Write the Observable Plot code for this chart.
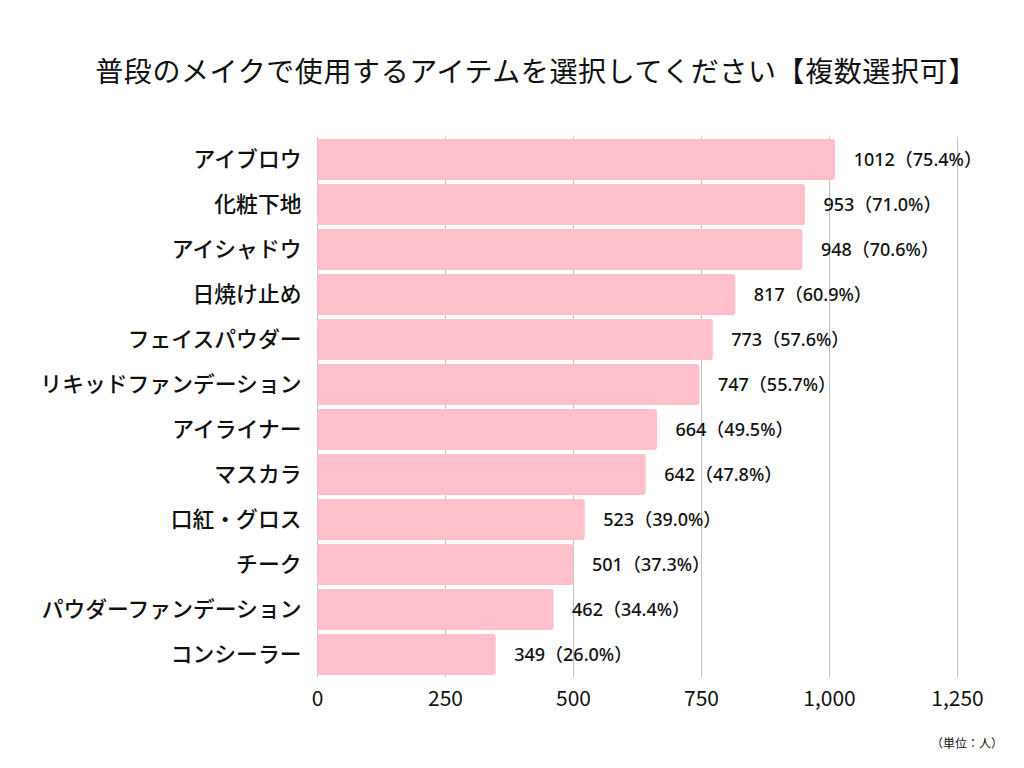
<!DOCTYPE html>
<html><head><meta charset="utf-8">
<script src="https://cdn.jsdelivr.net/npm/d3@7"></script>
<script src="https://cdn.jsdelivr.net/npm/@observablehq/plot@0.6"></script>
<style>
body{margin:0;background:#fff;font-family:"Noto Sans CJK JP","Noto Sans",sans-serif;}
#wrap{position:relative;width:1024px;height:768px;}
#title{position:absolute;left:0;width:1072px;top:50px;text-align:center;font-size:28px;color:#111;font-weight:400;letter-spacing:0.6px;}
#chart{position:absolute;left:0;top:115px;}
#cap{position:absolute;left:931px;top:734px;font-size:12px;color:#111;}
</style></head>
<body><div id="wrap">
<div id="title">普段のメイクで使用するアイテムを選択してください【複数選択可】</div>
<div id="chart"></div>
<div id="cap">（単位：人）</div>
</div>
<script>
const categories = ["アイブロウ","化粧下地","アイシャドウ","日焼け止め","フェイスパウダー","リキッドファンデーション","アイライナー","マスカラ","口紅・グロス","チーク","パウダーファンデーション","コンシーラー"];
const counts = [1012,953,948,817,773,747,664,642,523,501,462,349];
const percents = ["75.4","71.0","70.6","60.9","57.6","55.7","49.5","47.8","39.0","37.3","34.4","26.0"];
const xTicks = [0,250,500,750,1000,1250];

const data = categories.map((c,i)=>({cat:c, n:counts[i], label:`${counts[i]}（${percents[i]}%）`}));

const chart = Plot.plot({
  width: 1024,
  height: 615,
  marginLeft: 317,
  marginRight: 67,
  marginTop: 22,
  marginBottom: 53,
  style: {fontFamily: '"Noto Sans CJK JP","Noto Sans",sans-serif', background: "#fff"},
  x: {domain: [0,1250], ticks: xTicks, tickFormat: d3.format(","), tickSize: 0, tickPadding: 14, label: null},
  y: {domain: categories, paddingInner: 0.08, paddingOuter: 0.02, tickSize: 0, tickPadding: 16, label: null},
  marks: [
    Plot.ruleX(xTicks, {stroke: "#c0c0c0", strokeWidth: 1}),
    Plot.barX(data, {x: "n", y: "cat", fill: "#ffc0cb", rx: 3}),
    Plot.text(data, {x: "n", y: "cat", text: "label", textAnchor: "start", dx: 18, fontSize: 18, fontWeight: 500, fill: "#111", fontFamily: '"Noto Sans","Noto Sans CJK JP",sans-serif'}),
    Plot.axisX({ticks: xTicks, tickFormat: d3.format(","), tickSize: 0, tickPadding: 14, fontSize: 21, fill: "#111"}),
    Plot.axisY({tickSize: 0, tickPadding: 16, fontSize: 21.8, fontWeight: 500, fill: "#111"})
  ]
});
document.getElementById("chart").appendChild(chart);
</script>
</body></html>
